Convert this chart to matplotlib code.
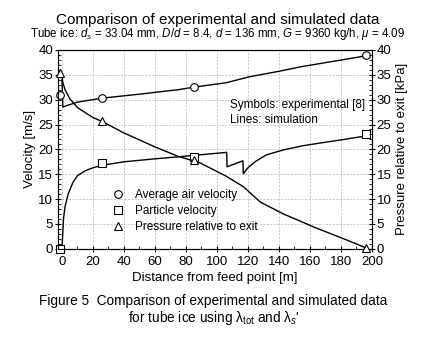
import numpy as np
import matplotlib
matplotlib.use('Agg')
import matplotlib.pyplot as plt
from matplotlib.ticker import MultipleLocator

plt.rcParams['font.family'] = ['Liberation Sans', 'DejaVu Sans']
plt.rcParams['mathtext.fontset'] = 'custom'
plt.rcParams['mathtext.rm'] = 'Liberation Sans'
plt.rcParams['mathtext.it'] = 'Liberation Sans:italic'

# experimental points
exp_x = [-1.5, 26, 85, 196]
exp_air = [31.0, 30.3, 32.5, 39.0]
exp_particle = [0.0, 17.3, 18.5, 23.0]
exp_pressure = [35.3, 25.8, 17.8, 0.2]

# simulation: average air velocity
sim_air_x = [0, 0.6, 3, 10, 20, 26, 50, 75, 85, 106, 121, 140, 154, 175, 196]
sim_air_y = [34.0, 28.5, 28.8, 29.5, 30.0, 30.3, 31.1, 32.0, 32.5, 33.4, 34.6, 35.7, 36.6, 37.7, 38.8]

# simulation: particle velocity
sim_part_x = [0, 0.5, 1, 2, 4, 7, 10, 15, 20, 26, 40, 60, 75, 89, 106.3, 106.5, 116.8, 117,
              120, 125, 132, 143, 155, 165, 180, 196]
sim_part_y = [0, 3.0, 6.0, 8.5, 11.0, 13.3, 14.7, 15.7, 16.3, 16.8, 17.5, 18.1, 18.5, 18.9, 19.4, 16.5, 17.7, 15.1,
              16.3, 17.6, 18.9, 19.9, 20.7, 21.2, 21.9, 22.7]

# simulation: pressure relative to exit
sim_pres_x = [0, 0.5, 2, 5, 10, 20, 26, 40, 60, 75, 89, 106, 117, 128, 143, 164, 186, 196]
sim_pres_y = [35.2, 33.5, 32.0, 30.2, 28.4, 26.4, 25.6, 23.3, 20.5, 18.6, 17.3, 14.6, 12.5, 9.4, 7.0, 4.2, 1.5, 0.2]

fig = plt.figure(figsize=(4.27, 3.49), dpi=100)
ax = fig.add_axes([0.136, 0.287, 0.735, 0.57])
ax2 = ax.twinx()

ax.plot(sim_air_x, sim_air_y, color='black', lw=1.0)
ax.plot(sim_part_x, sim_part_y, color='black', lw=1.0)
ax2.plot(sim_pres_x, sim_pres_y, color='black', lw=1.0)

mk = dict(linestyle='none', mfc='white', mec='black', mew=0.8, ms=5.5, clip_on=False, zorder=5)
ax.plot(exp_x, exp_air, marker='o', label='Average air velocity', **mk)
ax.plot(exp_x, exp_particle, marker='s', label='Particle velocity', **mk)
ax2.plot(exp_x, exp_pressure, marker='^', **mk)
ax.plot([], [], marker='^', label='Pressure relative to exit', **mk)

ax.set_xlim(-2.5, 200)
ax.set_ylim(0, 40)
ax2.set_ylim(0, 40)

ax.xaxis.set_major_locator(MultipleLocator(20))
ax.xaxis.set_minor_locator(MultipleLocator(10))
ax.yaxis.set_major_locator(MultipleLocator(5))
ax.yaxis.set_minor_locator(MultipleLocator(1))
ax2.yaxis.set_major_locator(MultipleLocator(5))
ax2.yaxis.set_minor_locator(MultipleLocator(1))

for a in (ax, ax2):
    a.tick_params(which='major', direction='inout', length=5, width=0.8, labelsize=9.5, pad=1)
    a.tick_params(which='minor', direction='in', length=2.5, width=0.6)
    for s in a.spines.values():
        s.set_linewidth(0.8)
ax.tick_params(axis='x', which='major', pad=2.5)

ax.grid(True, which='major', color='#b4b4b4', linestyle=(0, (3, 2)), lw=0.5)

ax.set_xlabel('Distance from feed point [m]', fontsize=9.5, labelpad=3)
ax.set_ylabel('Velocity [m/s]', fontsize=9.5, labelpad=2)
ax2.set_ylabel('Pressure relative to exit [kPa]', fontsize=9.5, labelpad=3)

ax.text(108.5, 29, 'Symbols: experimental [8]', fontsize=8.5, va='center')
ax.text(108.5, 26, 'Lines: simulation', fontsize=8.5, va='center')

ax.legend(loc='lower left', bbox_to_anchor=(0.135, 0.025), frameon=False, fontsize=8.5,
          handlelength=1.2, handletextpad=0.8, labelspacing=0.35)

fig.text(0.51, 0.93, 'Comparison of experimental and simulated data', ha='center', fontsize=11)
fig.text(0.51, 0.893, r'Tube ice: $d_s$ = 33.04 mm, $D/d$ = 8.4, $d$ = 136 mm, $G$ = 9360 kg/h, $\mu$ = 4.09',
         ha='center', fontsize=8.3)

fig.text(0.5, 0.125, 'Figure 5  Comparison of experimental and simulated data', ha='center', fontsize=9.8)
fig.text(0.5, 0.076, r"for tube ice using λ$_{\rm tot}$ and λ$_s$'", ha='center', fontsize=9.8)

fig.savefig('out.png', dpi=100)
